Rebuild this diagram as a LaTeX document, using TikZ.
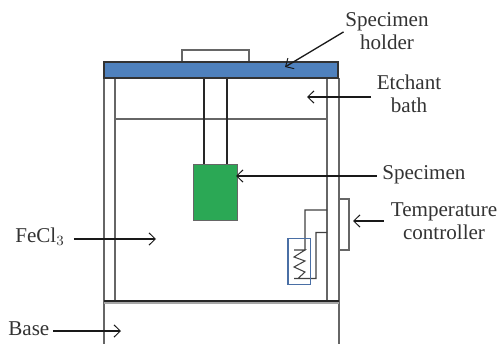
\documentclass[tikz,border=0pt]{standalone}
\usepackage{fontspec}
\setmainfont{Liberation Serif}
\usepackage{tikz}
\usetikzlibrary{arrows.meta}
\definecolor{holderblue}{HTML}{4F81BD}
\definecolor{specgreen}{HTML}{2BA855}
\definecolor{heatblue}{HTML}{4A6FA5}
\tikzset{
	wall/.style={draw=black!60, line width=0.65pt},
	rod/.style={draw=black!85, line width=0.6pt},
	wire/.style={draw=black!75, line width=0.6pt},
	pointer/.style={->, draw=black!90, line width=0.75pt, shorten <=3pt},
	lbl/.style={font=\fontsize{12}{13.2}\selectfont, align=center, inner sep=0pt, text=black!80}
}
\begin{document}
\begin{tikzpicture}[x=0.02cm, y=-0.02cm, >={Straight Barb[length=3.6pt,width=7pt,line width=0.55pt]}]
	\useasboundingbox (0,0) rectangle (499,344);

	% tank
	\draw[wall] (104,78) -- (104,344);
	\draw[wall] (339,78) -- (339,344);
	\draw[wall] (115,78) -- (115,301);
	\draw[wall] (327,78) -- (327,301);
	\draw[wall] (115,119) -- (327,119);
	\draw[rod] (204,78) -- (204,164);
	\draw[rod] (227,78) -- (227,164);
	\draw[draw=black!35, line width=0.6pt] (104,303) -- (339,303);
	\draw[rod] (104,301) -- (339,301);

	% holder and specimen
	\draw[wall] (182,62) rectangle (249,50);
	\draw[fill=holderblue, draw=black!80, line width=0.6pt] (104,62) rectangle (338,78);
	\node[fill=specgreen, draw=black!60, line width=0.6pt, minimum width=0.88cm, minimum height=1.12cm, inner sep=0pt] (S) at (215.5,192.5) {};

	% heater
	\draw[wall] (339,199) -- (349,199) -- (349,250) -- (339,250);
	\draw[wire] (327,210) -- (305,210) -- (305,250) -- (294,250) -- (305,250) -- (294,257) -- (305,261) -- (294,267) -- (305,272) -- (298,278.5) -- (294,278.5) -- (316,278.5) -- (316,232.5) -- (327,232.5);
	\draw[heatblue, line width=0.6pt] (288,238.5) rectangle (310.5,284.5);

	% labels
	\node[lbl] (H) at (387,31) {Specimen\\holder};
	\node[lbl] (E) at (409,93.5) {Etchant\\bath};
	\node[lbl, anchor=west] (P) at (382,175) {Specimen};
	\node[lbl] (T) at (444,221) {Temperature\\controller};
	\node[lbl, anchor=west] (F) at (15,237) {FeCl$_3$};
	\node[lbl, anchor=west] (B) at (8,329) {Base};

	\coordinate (h) at (285,67);
	\coordinate (e) at (307,97);
	\coordinate (p) at (236,176);
	\coordinate (t) at (353,221);
	\coordinate (f) at (156,239);
	\coordinate (b) at (121,331);

	\path (H.west) edge[pointer, shorten <=1pt] (h)
		(E.west |- e) edge[pointer] (e)
		(P.west |- p) edge[pointer] (p)
		(T.west |- t) edge[pointer, shorten <=4pt] (t)
		(F.east |- f) edge[pointer, shorten <=5pt] (f)
		(B.east |- b) edge[pointer, shorten <=2pt] (b);
\end{tikzpicture}
\end{document}
